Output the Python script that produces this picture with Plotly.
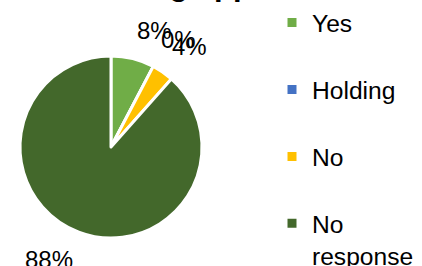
import math
import plotly.graph_objects as go

labels = ["Yes", "Holding", "No", "No response"]
legend_names = ["Yes<br> ", "Holding<br> ", "No<br> ", "No<br>response"]
values = [2, 0, 1, 23]
colors = ["#70AD47", "#4472C4", "#FFC000", "#43682B"]
title_text = "Using app"

W, H = 422, 290          # layout is taller than the 266px window: bottom is cropped like the reference
cx, cy, r = 111, 147, 91
FONT = "Liberation Sans, Arial, sans-serif"

fig = go.Figure(go.Pie(
    labels=legend_names,
    values=values,
    sort=False,
    direction="clockwise",
    rotation=0,
    marker=dict(colors=colors, line=dict(color="white", width=3)),
    textposition="none",
    domain=dict(x=[(cx - r) / W, (cx + r) / W], y=[1 - (cy + r) / H, 1 - (cy - r) / H]),
    showlegend=True,
    hoverinfo="label+percent",
))

# Outside-end data labels, placed from the slice mid-angles computed from the values
total = sum(values)
cum = 0
label_r = r + 14
for v in values:
    frac = v / total
    mid = (cum + frac / 2) * 2 * math.pi
    cum += frac
    sx, sy = math.sin(mid), math.cos(mid)
    px = cx + label_r * sx
    py = cy - label_r * sy
    fig.add_annotation(
        text=f"{round(frac * 100)}%", xref="paper", yref="paper",
        x=px / W, y=1 - py / H,
        xanchor="left" if sx >= 0 else "right",
        yanchor="bottom" if sy >= 0 else "top",
        showarrow=False, borderpad=0,
        font=dict(family=FONT, size=24, color="#000000"),
    )

fig.add_annotation(
    text="<b>" + title_text + "</b>", xref="paper", yref="paper",
    x=100 / W, xanchor="left", y=1 - 4 / H, yanchor="bottom",
    showarrow=False, font=dict(family=FONT, size=31, color="#000000"),
)

fig.update_layout(
    width=W, height=H,
    margin=dict(l=0, r=0, t=0, b=0),
    paper_bgcolor="white",
    plot_bgcolor="white",
    legend=dict(
        x=272 / W, xanchor="left", y=1, yanchor="top",
        font=dict(family=FONT, size=24.6, color="#000000"),
        valign="top", bgcolor="rgba(0,0,0,0)",
    ),
)

fig.write_html(
    "out.html",
    config={"displayModeBar": False},
    post_script="document.body.style.margin='0';document.body.style.overflow='hidden';",
)
